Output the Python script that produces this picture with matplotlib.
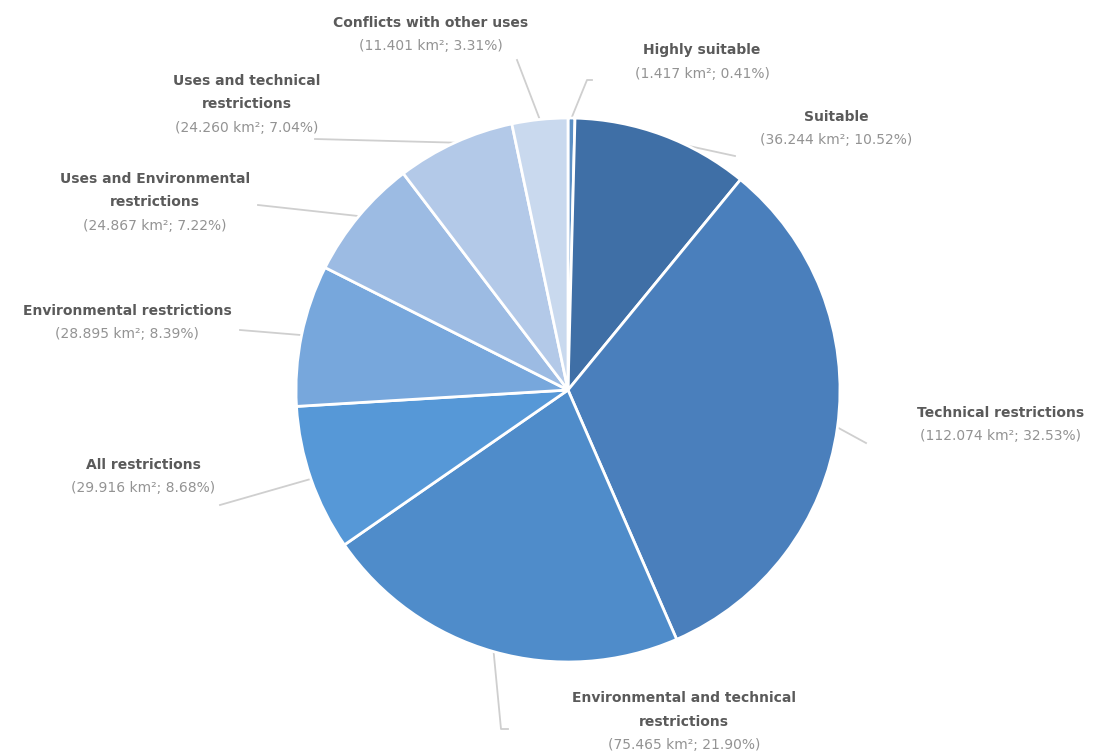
import numpy as np
import matplotlib.pyplot as plt

names = ["Highly suitable", "Suitable", "Technical restrictions",
         "Environmental and technical\nrestrictions", "All restrictions",
         "Environmental restrictions", "Uses and Environmental\nrestrictions",
         "Uses and technical\nrestrictions", "Conflicts with other uses"]
areas = ["1.417", "36.244", "112.074", "75.465", "29.916",
         "28.895", "24.867", "24.260", "11.401"]
shares = [0.41, 10.52, 32.53, 21.90, 8.68, 8.39, 7.22, 7.04, 3.31]
colors = ["#5b8fc4", "#3f6fa6", "#4a7fbc", "#4f8cca", "#5698d7",
          "#77a7dc", "#9cbbe3", "#b3c9e8", "#c9d9ee"]

# label anchor (text centre of first line) in pixels from top-left
label_xy = [(702, 50), (836, 117), (1001, 413), (684, 698), (143, 465),
            (127, 311), (155, 179), (247, 81), (431, 23)]
# where along each wedge's arc the leader leaves (0 = start, 1 = end)
leader_at = [0.5, 0.65, 0.5, 0.5, 0.5, 0.5, 0.5, 0.5, 0.5]
# leader path after leaving the wedge, pixels from top-left
leader_pts = [[(587, 80), (592, 80)], [(735, 156)], [(866, 443)],
              [(501, 729), (508, 729)], [(220, 505)], [(240, 330)],
              [(258, 205)], [(315, 139)], [(517, 60)]]

W, H = 1099, 756
fig = plt.figure(figsize=(W / 100, H / 100), dpi=100)
ax = fig.add_axes([0, 0, 1, 1])

cx, cy, r = 568, H - 390, 272
wedges, _ = ax.pie(shares, colors=colors, startangle=90, counterclock=False,
                   center=(cx, cy), radius=r,
                   wedgeprops=dict(edgecolor="white", linewidth=2))
ax.set_xlim(0, W)
ax.set_ylim(0, H)
ax.set_aspect("equal")
ax.axis("off")

font = "DejaVu Sans"
step = 23.5
for w, name, area, pct, (lx, ly), f, pts in zip(wedges, names, areas, shares,
                                                label_xy, leader_at, leader_pts):
    # wedges run clockwise, so theta2 is where each one starts
    ang = np.deg2rad(w.theta2 + (w.theta1 - w.theta2) * f)
    xs = [cx + r * np.cos(ang)] + [p[0] for p in pts]
    ys = [cy + r * np.sin(ang)] + [H - p[1] for p in pts]
    ax.plot(xs, ys, color="#cfcfcf", lw=1.3, zorder=0)
    lines = name.split("\n")
    for i, line in enumerate(lines):
        ax.text(lx, H - ly - step * i, line, ha="center", va="center",
                fontsize=10, fontweight="bold", color="#5a5a5a", family=font)
    ax.text(lx, H - ly - step * len(lines), f"({area} km²; {pct:.2f}%)",
            ha="center", va="center", fontsize=10, color="#939393",
            family=font)

fig.savefig("out.png", dpi=100, facecolor="white")
